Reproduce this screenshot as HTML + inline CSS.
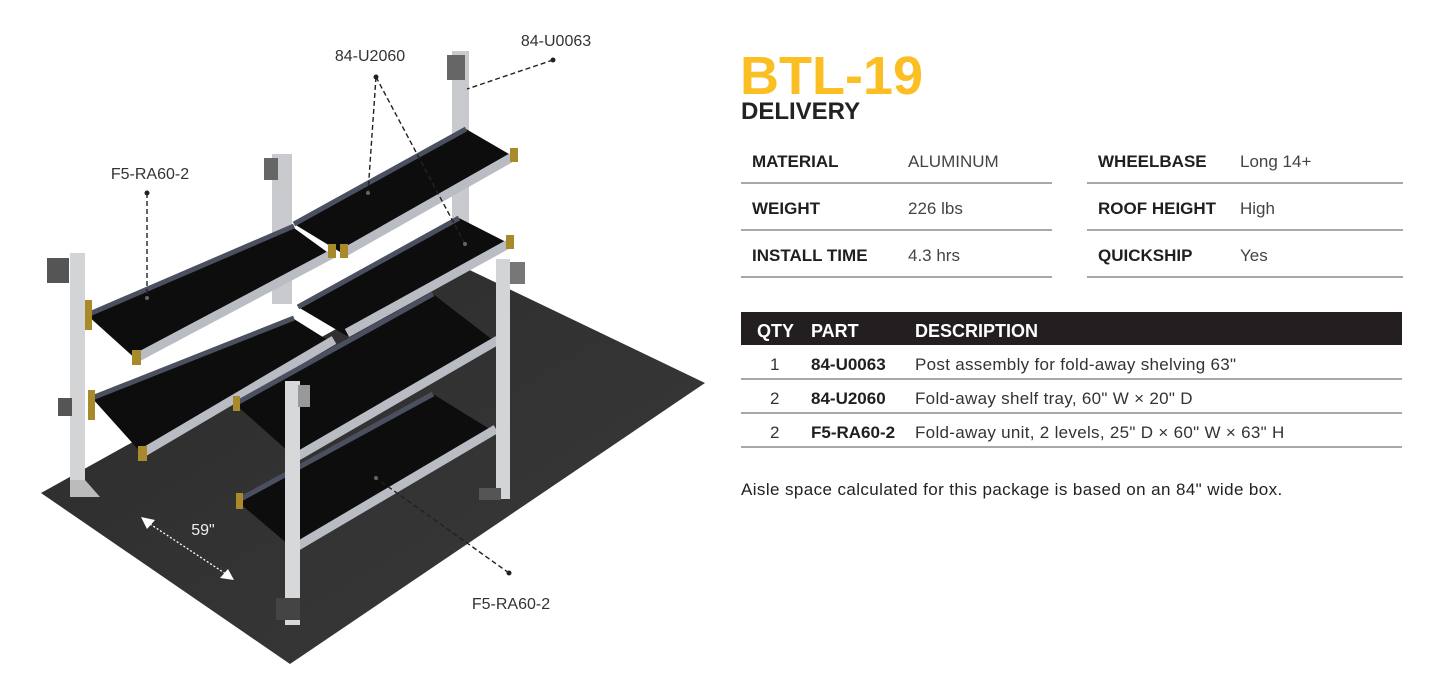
<!DOCTYPE html>
<html><head><meta charset="utf-8"><style>
html,body{margin:0;padding:0;background:#fff;}
body{width:1445px;height:692px;position:relative;overflow:hidden;font-family:"Liberation Sans",sans-serif;color:#222;}
.a{position:absolute;white-space:nowrap;}
.t{font-weight:bold;font-size:17px;color:#1f1f1f;}
.v{font-size:17px;color:#444;}
.ln{position:absolute;height:2px;background:#a8a8a8;}
</style></head><body>
<svg width="720" height="692" style="position:absolute;left:0;top:0">
<defs><linearGradient id="fl" x1="0" y1="0" x2="1" y2="1"><stop offset="0" stop-color="#2b2b2b"/><stop offset="1" stop-color="#3a3a3a"/></linearGradient></defs>
<polygon points="41,493 290,664 705,383 455,263" fill="url(#fl)"/>
<rect x="272" y="154" width="20" height="150" fill="#c8cacd"/>
<rect x="452" y="51" width="17" height="175" fill="#c8cacd"/>
<rect x="447" y="55" width="18" height="25" fill="#666"/>
<rect x="264" y="158" width="14" height="22" fill="#666"/>
<g stroke-linejoin="round">
<polygon points="294,224 345,255 516,158 466,129" fill="#0d0d0d"/>
<line x1="294" y1="224" x2="466" y2="129" stroke="#4a5060" stroke-width="5"/>
<line x1="345" y1="252" x2="516" y2="155" stroke="#b9bcc3" stroke-width="9"/>
<rect x="510" y="148" width="8" height="14" fill="#a88a2a"/>
<rect x="340" y="244" width="8" height="14" fill="#a88a2a"/>
<polygon points="298,307 347,336 512,245 459,218" fill="#0d0d0d"/>
<line x1="298" y1="307" x2="459" y2="218" stroke="#4a5060" stroke-width="5"/>
<line x1="347" y1="333" x2="512" y2="242" stroke="#b9bcc3" stroke-width="9"/>
<rect x="506" y="235" width="8" height="14" fill="#a88a2a"/>
<polygon points="87,315 138,361 334,257 294,228" fill="#0d0d0d"/>
<line x1="87" y1="315" x2="294" y2="226" stroke="#4a5060" stroke-width="5"/>
<line x1="138" y1="357" x2="334" y2="253" stroke="#b9bcc3" stroke-width="9"/>
<rect x="132" y="350" width="9" height="15" fill="#a88a2a"/>
<rect x="328" y="244" width="8" height="14" fill="#a88a2a"/>
<rect x="84" y="300" width="8" height="30" fill="#a88a2a"/>
<polygon points="92,398 144,456 334,344 294,319" fill="#0d0d0d"/>
<line x1="92" y1="398" x2="294" y2="318" stroke="#4a5060" stroke-width="5"/>
<line x1="144" y1="452" x2="334" y2="340" stroke="#b9bcc3" stroke-width="9"/>
<rect x="138" y="446" width="9" height="15" fill="#a88a2a"/>
<rect x="88" y="390" width="7" height="30" fill="#a88a2a"/>
<rect x="70" y="253" width="15" height="244" fill="#d2d4d6"/>
<rect x="47" y="258" width="22" height="25" fill="#555"/>
<rect x="58" y="398" width="14" height="18" fill="#555"/>
<polygon points="70,480 85,480 100,497 70,497" fill="#bbb"/>
<polygon points="235,404 298,460 498,344 433,294" fill="#0d0d0d"/>
<line x1="235" y1="404" x2="433" y2="294" stroke="#4a5060" stroke-width="5"/>
<line x1="298" y1="456" x2="498" y2="340" stroke="#b9bcc3" stroke-width="9"/>
<rect x="233" y="396" width="7" height="15" fill="#a88a2a"/>
<polygon points="237,501 296,551 496,433 433,394" fill="#0d0d0d"/>
<line x1="237" y1="501" x2="433" y2="394" stroke="#4a5060" stroke-width="5"/>
<line x1="296" y1="547" x2="496" y2="429" stroke="#b9bcc3" stroke-width="9"/>
<rect x="236" y="493" width="7" height="16" fill="#a88a2a"/>
<rect x="496" y="259" width="14" height="240" fill="#d2d4d6"/>
<rect x="510" y="262" width="15" height="22" fill="#777"/>
<rect x="479" y="488" width="22" height="12" fill="#555"/>
<rect x="285" y="381" width="15" height="244" fill="#d6d8da"/>
<rect x="298" y="385" width="12" height="22" fill="#999"/>
<rect x="276" y="598" width="24" height="22" fill="#444"/>
</g>
<g stroke="#222" stroke-width="1.4" stroke-dasharray="5,3" fill="none">
<line x1="376" y1="77" x2="368" y2="193"/>
<line x1="376" y1="77" x2="465" y2="244"/>
<line x1="553" y1="60" x2="467" y2="89"/>
<line x1="147" y1="193" x2="147" y2="298"/>
<line x1="509" y1="573" x2="376" y2="478"/>
</g>
<g stroke="#fff" stroke-width="1.3" stroke-dasharray="2,2"><line x1="150" y1="524" x2="226" y2="574"/></g>
<polygon points="141,517 155,520 147,529" fill="#fff"/>
<polygon points="234,580 220,578 228,569" fill="#fff"/>
<g fill="#222"><circle cx="376" cy="77" r="2.5"/><circle cx="553" cy="60" r="2.5"/><circle cx="147" cy="193" r="2.5"/><circle cx="509" cy="573" r="2.5"/>
<circle cx="368" cy="193" r="2" fill="#666"/><circle cx="465" cy="244" r="2" fill="#666"/><circle cx="147" cy="298" r="2" fill="#666"/><circle cx="376" cy="478" r="2" fill="#666"/></g>
<g font-family="Liberation Sans,sans-serif" font-size="16" fill="#333">
<text x="370" y="61" text-anchor="middle">84-U2060</text>
<text x="556" y="46" text-anchor="middle">84-U0063</text>
<text x="150" y="179" text-anchor="middle">F5-RA60-2</text>
<text x="511" y="609" text-anchor="middle">F5-RA60-2</text>
<text x="203" y="535" text-anchor="middle" fill="#eee">59"</text>
</g>
</svg>

<div class="a" style="left:740px;top:45px;font-size:54px;font-weight:bold;color:#fbbf24;letter-spacing:0px;">BTL-19</div>
<div class="a" style="left:741px;top:98px;font-size:24px;font-weight:bold;color:#222;">DELIVERY</div>

<div class="a t" style="left:752px;top:152px">MATERIAL</div><div class="a v" style="left:908px;top:152px">ALUMINUM</div>
<div class="a t" style="left:752px;top:199px">WEIGHT</div><div class="a v" style="left:908px;top:199px">226 lbs</div>
<div class="a t" style="left:752px;top:246px">INSTALL TIME</div><div class="a v" style="left:908px;top:246px">4.3 hrs</div>
<div class="a t" style="left:1098px;top:152px">WHEELBASE</div><div class="a v" style="left:1240px;top:152px">Long 14+</div>
<div class="a t" style="left:1098px;top:199px">ROOF HEIGHT</div><div class="a v" style="left:1240px;top:199px">High</div>
<div class="a t" style="left:1098px;top:246px">QUICKSHIP</div><div class="a v" style="left:1240px;top:246px">Yes</div>
<div class="ln" style="left:741px;width:311px;top:182px"></div>
<div class="ln" style="left:741px;width:311px;top:229px"></div>
<div class="ln" style="left:741px;width:311px;top:276px"></div>
<div class="ln" style="left:1087px;width:316px;top:182px"></div>
<div class="ln" style="left:1087px;width:316px;top:229px"></div>
<div class="ln" style="left:1087px;width:316px;top:276px"></div>

<div class="a" style="left:741px;top:312px;width:661px;height:33px;background:#231f20;"></div>
<div class="a" style="left:757px;top:321px;color:#fff;font-weight:bold;font-size:18px">QTY</div>
<div class="a" style="left:811px;top:321px;color:#fff;font-weight:bold;font-size:18px">PART</div>
<div class="a" style="left:915px;top:321px;color:#fff;font-weight:bold;font-size:18px">DESCRIPTION</div>

<div class="a v" style="left:770px;top:355px;color:#333">1</div><div class="a t" style="left:811px;top:355px">84-U0063</div><div class="a v" style="left:915px;top:355px;color:#333;letter-spacing:0.3px">Post assembly for fold-away shelving 63"</div>
<div class="a v" style="left:770px;top:389px;color:#333">2</div><div class="a t" style="left:811px;top:389px">84-U2060</div><div class="a v" style="left:915px;top:389px;color:#333;letter-spacing:0.3px">Fold-away shelf tray, 60" W × 20" D</div>
<div class="a v" style="left:770px;top:423px;color:#333">2</div><div class="a t" style="left:811px;top:423px">F5-RA60-2</div><div class="a v" style="left:915px;top:423px;color:#333;letter-spacing:0.3px">Fold-away unit, 2 levels, 25" D × 60" W × 63" H</div>
<div class="ln" style="left:741px;width:661px;top:378px"></div>
<div class="ln" style="left:741px;width:661px;top:412px"></div>
<div class="ln" style="left:741px;width:661px;top:446px"></div>

<div class="a" style="left:741px;top:480px;font-size:17px;color:#222;letter-spacing:0.4px">Aisle space calculated for this package is based on an 84" wide box.</div>
</body></html>
